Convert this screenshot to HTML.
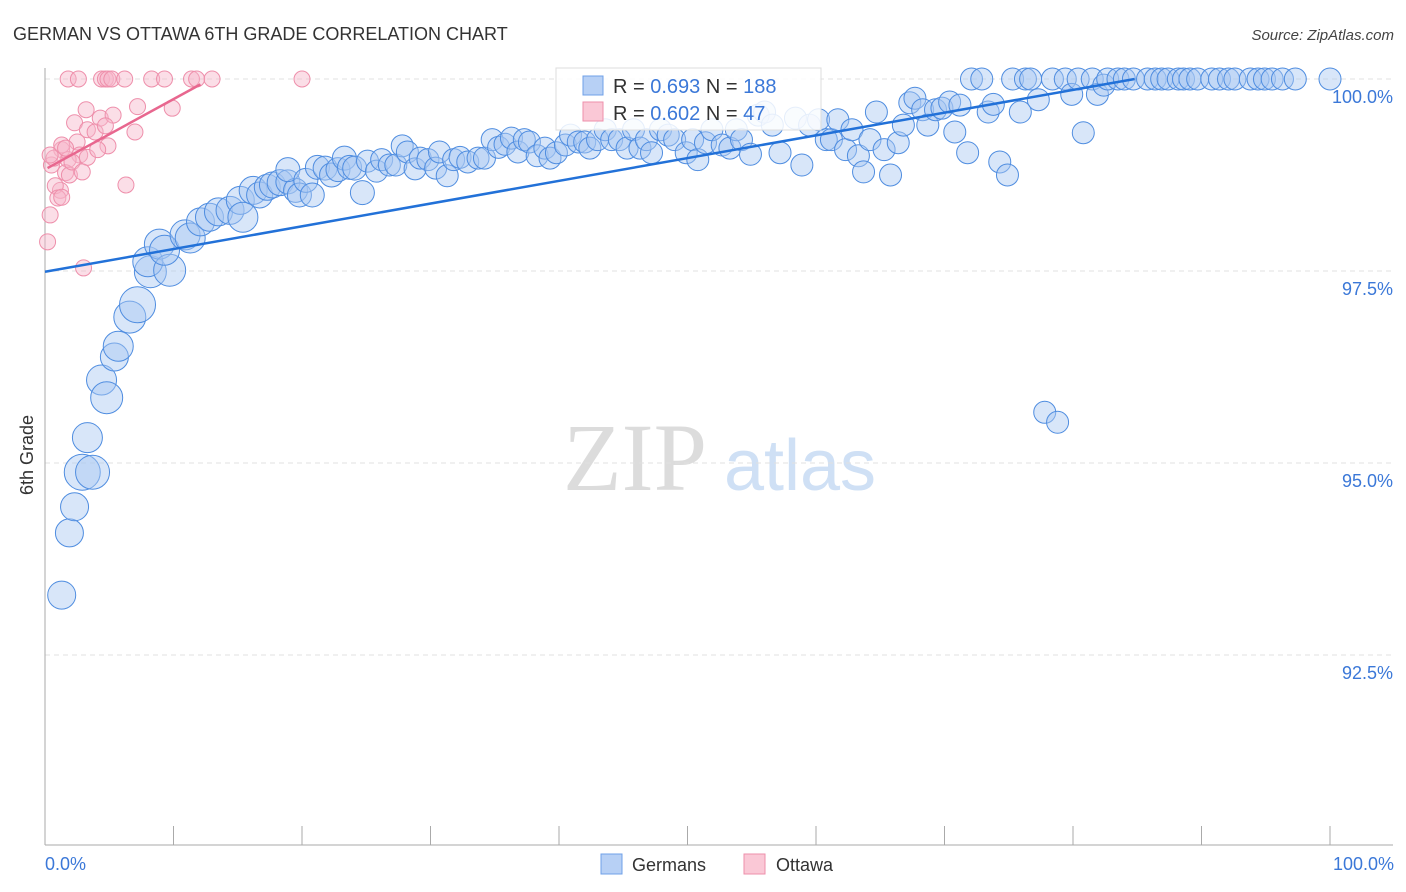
<!DOCTYPE html>
<html><head><meta charset="utf-8">
<style>
body{margin:0;background:#fff;font-family:"Liberation Sans",sans-serif;}
svg{display:block}
</style></head>
<body>
<svg id="chart" width="1406" height="892" viewBox="0 0 1406 892" xmlns="http://www.w3.org/2000/svg">
<text x="13" y="40" font-size="18" fill="#333" font-family="Liberation Sans, sans-serif">GERMAN VS OTTAWA 6TH GRADE CORRELATION CHART</text>
<text x="1394" y="40" font-size="15" fill="#444" text-anchor="end" font-style="italic" font-family="Liberation Sans, sans-serif">Source: ZipAtlas.com</text>
<g>
<text x="635" y="490" font-size="96" fill="#dcdcdc" text-anchor="middle" font-family="Liberation Serif, serif">ZIP</text>
<text x="800" y="490" font-size="72" fill="#cfe0f5" text-anchor="middle" font-family="Liberation Sans, sans-serif">atlas</text>
</g>
<g id="grid"></g>
<g id="axes"></g>
<g id="pink"></g>
<g id="blue"></g>
<g id="lines"></g>
<text transform="translate(33,455) rotate(-90)" font-size="18" fill="#333" text-anchor="middle" font-family="Liberation Sans, sans-serif">6th Grade</text>
<text x="45" y="870" font-size="18" fill="#3b78d8" font-family="Liberation Sans, sans-serif">0.0%</text>
<text x="1394" y="870" font-size="18" fill="#3b78d8" text-anchor="end" font-family="Liberation Sans, sans-serif">100.0%</text>
<g>
<rect x="556" y="68" width="265" height="62" fill="#fff" fill-opacity="0.85" stroke="#ddd"/>
<rect x="583" y="76" width="20" height="19" fill="#b7d0f5" stroke="#6fa0e8"/>
<rect x="583" y="102" width="20" height="19" fill="#fac8d6" stroke="#ee8fab"/>
<text x="613" y="93" font-size="20" fill="#333">R = <tspan fill="#3b78d8">0.693</tspan>   N = <tspan fill="#3b78d8">188</tspan></text>
<text x="613" y="120" font-size="20" fill="#333">R = <tspan fill="#3b78d8">0.602</tspan>   N = <tspan fill="#3b78d8"> 47</tspan></text>
</g>
<g>
<rect x="601" y="854" width="21" height="20" fill="#b7d0f5" stroke="#6fa0e8"/>
<text x="632" y="871" font-size="18" fill="#333">Germans</text>
<rect x="744" y="854" width="21" height="20" fill="#fac8d6" stroke="#ee8fab"/>
<text x="776" y="871" font-size="18" fill="#333">Ottawa</text>
</g>
</svg>
<script>
const yTicks=[100,97.5,95,92.5];
const yTickLabels=["100.0%","97.5%","95.0%","92.5%"];
const xTicks=[0,10,20,30,40,50,60,70,80,90,100];
const blueX=[1.3,1.9,2.3,3.3,2.9,3.7,4.4,4.8,5.4,5.7,6.6,7.2,8.2,8.0,8.9,9.7,9.3,10.9,11.3,12.1,12.8,13.5,14.4,15.2,15.4,16.2,16.7,17.3,17.7,18.3,18.9,19.5,19.8,18.9,20.3,20.8,21.2,21.8,22.3,22.8,23.3,23.7,24.1,24.7,25.1,25.8,26.2,26.8,27.3,27.8,28.2,28.8,29.2,29.8,30.4,30.7,31.3,31.8,32.3,32.9,33.7,34.2,34.8,35.3,35.8,36.3,36.8,37.3,37.7,38.3,38.9,39.3,39.8,40.5,40.9,41.5,42.0,42.4,43.0,43.6,44.1,44.7,45.3,45.8,46.3,46.8,47.2,47.9,48.5,49.0,49.9,50.4,50.8,51.4,51.9,52.7,53.3,53.8,54.2,54.9,55.5,56.0,56.6,57.2,58.4,58.9,59.5,60.2,60.8,61.2,61.7,62.3,62.8,63.3,63.7,64.2,64.7,65.3,65.8,66.4,66.8,67.3,67.7,68.3,68.7,69.3,69.8,70.4,70.8,71.2,71.8,72.1,72.9,73.4,73.8,74.3,74.9,75.3,75.9,76.3,76.7,77.3,77.8,78.4,78.8,79.4,79.9,80.4,80.8,81.5,81.9,82.4,82.7,83.5,84.0,84.7,85.8,86.4,86.9,87.4,88.2,88.6,89.1,89.7,90.8,91.4,92.1,92.6,93.8,94.4,94.9,95.5,96.3,97.3,100];
const blueY=[93.28,94.09,94.43,95.33,94.88,94.88,96.08,95.85,96.38,96.52,96.90,97.06,97.49,97.62,97.85,97.51,97.77,97.97,97.93,98.14,98.20,98.27,98.29,98.42,98.20,98.55,98.49,98.59,98.62,98.65,98.66,98.55,98.49,98.82,98.68,98.49,98.85,98.84,98.75,98.82,98.97,98.85,98.84,98.52,98.93,98.80,98.95,98.88,98.88,99.13,99.05,98.83,98.97,98.95,98.84,99.05,98.74,98.95,98.98,98.92,98.97,98.97,99.21,99.11,99.15,99.23,99.05,99.21,99.18,99.00,99.10,98.97,99.04,99.14,99.27,99.18,99.18,99.10,99.21,99.34,99.21,99.21,99.10,99.34,99.10,99.21,99.04,99.34,99.27,99.21,99.04,99.21,98.95,99.17,99.34,99.14,99.10,99.34,99.21,99.02,99.53,99.57,99.40,99.04,99.49,98.88,99.40,99.47,99.21,99.21,99.47,99.08,99.34,99.00,98.79,99.21,99.57,99.08,98.75,99.17,99.40,99.69,99.75,99.60,99.40,99.60,99.62,99.70,99.31,99.66,99.04,100,100,99.57,99.67,98.92,98.75,100,99.57,100,100,99.73,95.66,100,95.53,100,99.80,100,99.30,100,99.80,99.92,100,100,100,100,100,100,100,100,100,100,100,100,100,100,100,100,100,100,100,100,100,100,100,99.82];
const blueSize=[12,12,12,13,16,15,13,14,12,13,14,16,14,13,13,14,13,13,13,12,12,12,12,12,13,12,11,11,11,11,10,10,10,10,10,10,10,10,10,10,10,10,10,10];
const pinkX=[1.8,2.6,4.4,4.7,4.9,5.2,6.2,8.3,9.3,11.4,11.8,13.0,20.0,3.2,2.3,3.3,4.3,5.3,7.2,9.9,2.5,3.9,1.3,2.7,4.9,7.0,3.3,1.8,1.6,1.2,0.5,0.4,0.2,3.0,6.3,0.8,1.0,1.3,1.9,2.1,0.7,0.4,2.9,1.3,4.7,4.1,1.6];
const pinkY=[100,100,100,100,100,100,100,100,100,100,100,100,100,99.60,99.43,99.34,99.49,99.53,99.64,99.62,99.18,99.31,99.08,99.01,99.13,99.31,98.98,98.95,98.78,98.55,98.88,98.23,97.88,97.54,98.62,98.61,98.45,98.46,98.75,98.92,98.97,99.01,98.79,99.14,99.39,99.08,99.10];
const blueTrend=[[0,97.49],[84.8,100]];
const pinkTrend=[[0.2,98.84],[12.1,99.93]];
const NS="http://www.w3.org/2000/svg";
const X=p=>45+p*12.85;
const Y=v=>79+(100-v)/2.5*192;
function mk(tag,parent,attrs){const e=document.createElementNS(NS,tag);for(const k in attrs)e.setAttribute(k,attrs[k]);parent.appendChild(e);return e;}
const grid=document.getElementById('grid'),axes=document.getElementById('axes');
yTicks.forEach((t,i)=>{
  const l=mk('line',grid,{x1:45,x2:1393,y1:Y(t),y2:Y(t),stroke:'#e0e0e0','stroke-dasharray':'5,4'});
  
  
  const tx=mk('text',grid,{x:1393,y:Y(t)+24,'font-size':18,fill:'#3b78d8','text-anchor':'end','font-family':'Liberation Sans, sans-serif'});
  tx.textContent=yTickLabels[i];
  
  
});
const ya=mk('line',axes,{x1:45,x2:45,y1:68,y2:845,stroke:'#aaa'});


const xa=mk('line',axes,{x1:45,x2:1393,y1:845,y2:845,stroke:'#aaa'});


xTicks.forEach(t=>{
  const l=mk('line',axes,{x1:X(t),x2:X(t),y1:826,y2:845,stroke:'#aaa'});
  
  
});
const pg=document.getElementById('pink');
pinkX.forEach((x,i)=>{
  const c=mk('circle',pg,{cx:X(x),cy:Y(pinkY[i]),r:8,fill:'#f7b6c9','fill-opacity':0.45,stroke:'#ee8fab','stroke-width':1});
  
  
});
const bg=document.getElementById('blue');
blueX.forEach((x,i)=>{
  const r=i<blueSize.length?blueSize[i]:9;
  const c=mk('circle',bg,{cx:X(x),cy:Y(blueY[i]),r:r+2,fill:'#a9c8f2','fill-opacity':0.45,stroke:'#4f8de0','stroke-width':1});
  
  
});
const lg=document.getElementById('lines');
const bl=mk('line',lg,{x1:X(blueTrend[0][0]),y1:Y(blueTrend[0][1]),x2:X(blueTrend[1][0]),y2:Y(blueTrend[1][1]),stroke:'#2271d8','stroke-width':2.5});


const pl=mk('line',lg,{x1:X(pinkTrend[0][0]),y1:Y(pinkTrend[0][1]),x2:X(pinkTrend[1][0]),y2:Y(pinkTrend[1][1]),stroke:'#e8678f','stroke-width':2.5});


</script>
</body></html>
